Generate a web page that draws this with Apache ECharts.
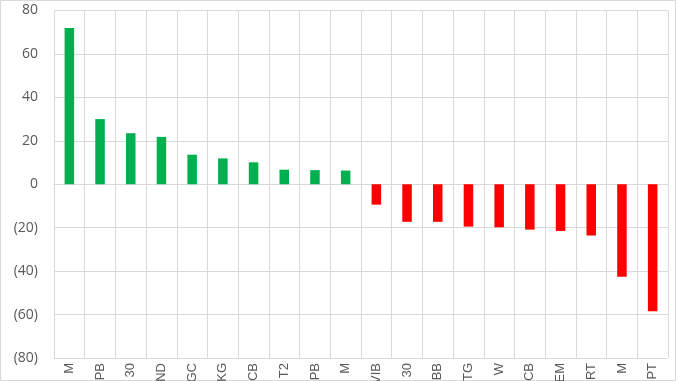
<!DOCTYPE html>
<html>
<head>
<meta charset="utf-8">
<script src="https://cdn.jsdelivr.net/npm/echarts@6/dist/echarts.min.js"></script>
<style>html,body{margin:0;padding:0;background:#fff;}#c{width:678px;height:381px;}</style>
</head>
<body>
<div id="c"></div>
<script>
var categories = ["M","PB","30","ND","GC","KG","CB","T2","PB","M","VIB","30","BB","TG","W","CB","EM","RT","M","PT"];
var values = [72, 30, 23.5, 21.8, 13.6, 11.9, 10.1, 6.7, 6.5, 6.3, -9.4, -17.3, -17.3, -19.5, -19.8, -20.9, -21.5, -23.6, -42.6, -58.5];
var yTicks = [-80, -60, -40, -20, 0, 20, 40, 60, 80];

var chart = echarts.init(document.getElementById('c'));
chart.setOption({
  animation: false,
  backgroundColor: '#fff',
  grid: {left: 54, right: 10, top: 10.5, bottom: 23, containLabel: false, outerBoundsMode: 'none'},
  graphic: [{type: 'rect', shape: {x: 0.5, y: 0.5, width: 675, height: 380}, style: {fill: 'none', stroke: '#d9d9d9', lineWidth: 1}, silent: true}],
  xAxis: {
    type: 'category',
    data: categories,
    position: 'bottom',
    axisLine: {show: true, lineStyle: {color: '#d9d9d9'}},
    axisTick: {show: false},
    splitLine: {show: true, interval: 0, lineStyle: {color: '#d9d9d9', width: 1}},
    axisLabel: {interval: 0, rotate: 90, color: '#595959', fontSize: 13, fontFamily: 'Liberation Sans, Arial, sans-serif', margin: 5}
  },
  yAxis: {
    type: 'value',
    min: -80, max: 80, interval: 20,
    axisLine: {show: false},
    axisTick: {show: false},
    splitLine: {show: true, lineStyle: {color: '#d9d9d9', width: 1}},
    axisLabel: {
      color: '#595959', fontSize: 14, fontFamily: 'Open Sans, Liberation Sans, sans-serif', margin: 16,
      formatter: function (v) { return v < 0 ? '(' + Math.abs(v) + ')' : String(v); }
    }
  },
  series: [{
    type: 'bar',
    data: values,
    barWidth: '31%',
    itemStyle: {color: function (p) { return p.value >= 0 ? '#00B050' : '#FF0000'; }}
  }]
});
</script>
</body>
</html>
